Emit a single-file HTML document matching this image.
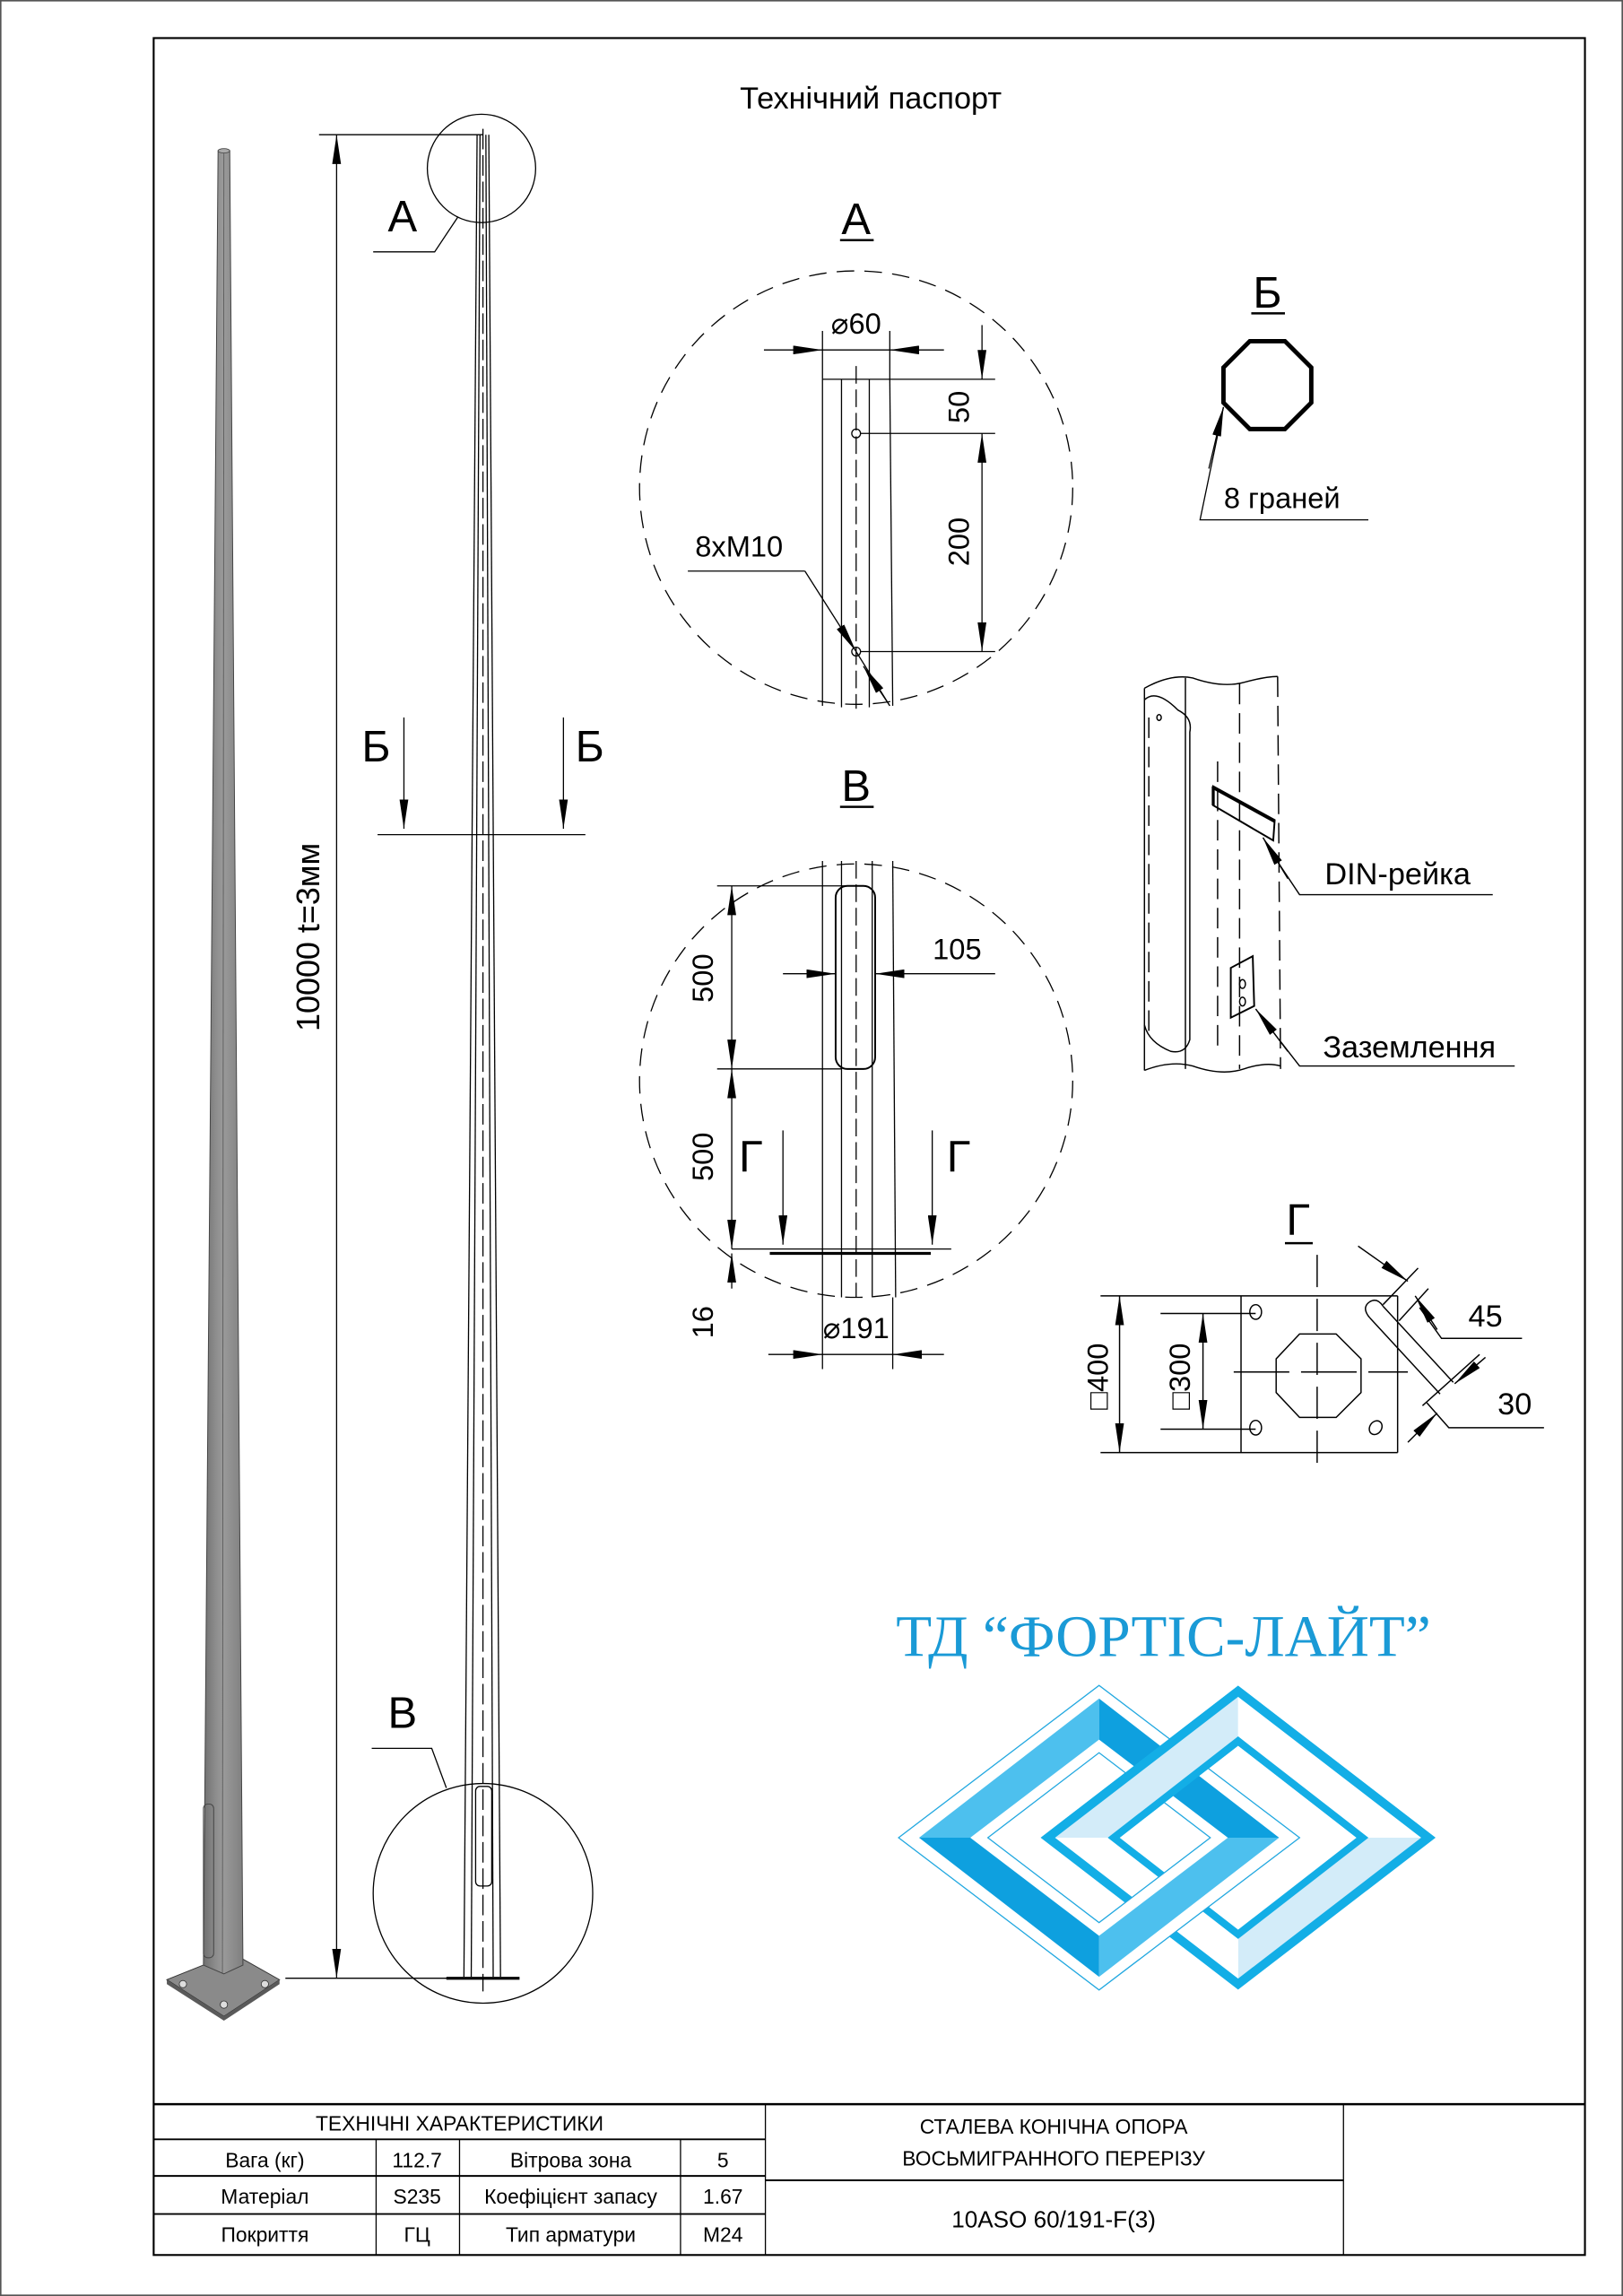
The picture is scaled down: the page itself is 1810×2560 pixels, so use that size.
<!DOCTYPE html>
<html><head><meta charset="utf-8"><style>
html,body{margin:0;padding:0;background:#fff}
svg{display:block}
text{font-family:"Liberation Sans","DejaVu Sans",sans-serif;fill:#000}
</style></head><body>
<svg width="1810" height="2560" viewBox="0 0 1109 1568" preserveAspectRatio="none" xmlns="http://www.w3.org/2000/svg">
<defs>
<marker id="ar" viewBox="0 0 20 6" refX="20" refY="3" markerWidth="20" markerHeight="6" markerUnits="userSpaceOnUse" orient="auto-start-reverse"><path d="M0,0 L20,3 L0,6 Z" fill="#000"/></marker>
<linearGradient id="pg" x1="0" x2="1"><stop offset="0" stop-color="#6f6f6f"/><stop offset="0.3" stop-color="#8c8c8c"/><stop offset="0.5" stop-color="#9a9a9a"/><stop offset="1" stop-color="#808080"/></linearGradient>
<clipPath id="up"><rect x="600" y="1100" width="400" height="155"/></clipPath>
<g id="rd">
<polygon points="719,1255 846,1157 846,1187 761,1255" fill="#d3ecf9"/>
<polygon points="846,1157 973,1255 931,1255 846,1187" fill="#fff"/>
<polygon points="973,1255 846,1353 846,1323 931,1255" fill="#d3ecf9"/>
<polygon points="846,1353 719,1255 761,1255 846,1323" fill="#fff"/>
<polygon points="716,1255 846,1155 976,1255 846,1355" fill="none" stroke="#13aee6" stroke-width="6"/>
<polygon points="761,1255 846,1189 931,1255 846,1321" fill="none" stroke="#13aee6" stroke-width="5"/>
</g>
</defs>
<rect x="0.5" y="0.5" width="1108" height="1567" fill="none" stroke="#555" stroke-width="1"/>
<rect x="105" y="26" width="978" height="1514" fill="none" stroke="#000" stroke-width="1.3"/>

<text x="595" y="74" font-size="21" text-anchor="middle">Технічний паспорт</text>

<!-- 3D pole -->
<polygon points="114,1352 159,1334 191,1352 153,1377" fill="#8a8a8a" stroke="#333" stroke-width="0.6"/>
<polygon points="114,1352 153,1377 191,1352 191,1355 153,1380 114,1355" fill="#5a5a5a"/>
<polygon points="149,103 157,103 166,1342 153,1348 139,1342" fill="url(#pg)" stroke="#444" stroke-width="0.6"/>
<line x1="153" y1="103" x2="152" y2="1348" stroke="#555" stroke-width="0.5"/>
<ellipse cx="153" cy="103" rx="4" ry="1.5" fill="#aaa" stroke="#444" stroke-width="0.5"/>
<rect x="139" y="1232" width="7" height="105" rx="3" fill="none" stroke="#444" stroke-width="0.6"/>
<circle cx="125" cy="1355" r="2.5" fill="#ddd" stroke="#333" stroke-width="0.5"/>
<circle cx="181" cy="1355" r="2.5" fill="#ddd" stroke="#333" stroke-width="0.5"/>
<circle cx="153" cy="1369" r="2.5" fill="#ddd" stroke="#333" stroke-width="0.5"/>

<!-- main elevation pole -->
<g stroke="#000" stroke-width="0.8" fill="none">
<line x1="326" y1="92" x2="317" y2="1350"/>
<line x1="334" y1="92" x2="342" y2="1350"/>
<line x1="328" y1="92" x2="322" y2="1350"/>
<line x1="332" y1="92" x2="337" y2="1350"/>
<line x1="330" y1="88" x2="330" y2="1360" stroke-dasharray="14,4"/>
<line x1="305" y1="1351" x2="355" y2="1351" stroke-width="2"/>
<rect x="325" y="1220" width="11" height="68" rx="3"/>
<line x1="218" y1="92" x2="330" y2="92"/>
<line x1="195" y1="1351" x2="310" y2="1351"/>
<line x1="230" y1="92" x2="230" y2="1351" marker-start="url(#ar)" marker-end="url(#ar)"/>
<circle cx="329" cy="115" r="37"/>
<polyline points="255,172 297,172 313,148"/>
<circle cx="330" cy="1293" r="75"/>
<polyline points="254,1194 295,1194 305,1221"/>
<line x1="258" y1="570" x2="400" y2="570"/>
<line x1="276" y1="490" x2="276" y2="566" marker-end="url(#ar)"/>
<line x1="385" y1="490" x2="385" y2="566" marker-end="url(#ar)"/>
</g>
<text transform="translate(218,640) rotate(-90)" font-size="22" text-anchor="middle">10000 t=3мм</text>
<text x="275" y="158" font-size="30" text-anchor="middle">А</text>
<text x="275" y="1180" font-size="30" text-anchor="middle">В</text>
<text x="257" y="520" font-size="30" text-anchor="middle">Б</text>
<text x="403" y="520" font-size="30" text-anchor="middle">Б</text>

<!-- Detail A -->
<text x="585" y="160" font-size="30" text-anchor="middle">А</text>
<line x1="574" y1="164" x2="597" y2="164" stroke="#000" stroke-width="1.5"/>
<g stroke="#000" stroke-width="0.8" fill="none">
<circle cx="585" cy="333" r="148" stroke-dasharray="12,7"/>
<line x1="562" y1="259" x2="562" y2="482"/>
<line x1="575" y1="259" x2="575" y2="483"/>
<line x1="585" y1="250" x2="585" y2="484" stroke-dasharray="12,4"/>
<line x1="594" y1="259" x2="594" y2="483"/>
<line x1="608" y1="259" x2="610" y2="482"/>
<line x1="562" y1="259" x2="680" y2="259"/>
<line x1="562" y1="226" x2="562" y2="259"/>
<line x1="608" y1="226" x2="608" y2="259"/>
<line x1="522" y1="239" x2="562" y2="239" marker-end="url(#ar)"/>
<line x1="645" y1="239" x2="608" y2="239" marker-end="url(#ar)"/>
<line x1="562" y1="239" x2="608" y2="239"/>
<circle cx="585" cy="296" r="3"/>
<circle cx="585" cy="445" r="3"/>
<line x1="588" y1="296" x2="680" y2="296"/>
<line x1="588" y1="445" x2="680" y2="445"/>
<line x1="671" y1="222" x2="671" y2="259" marker-end="url(#ar)"/>
<line x1="671" y1="296" x2="671" y2="445" marker-start="url(#ar)" marker-end="url(#ar)"/>
<line x1="470" y1="390" x2="550" y2="390"/>
<line x1="550" y1="390" x2="585" y2="445" marker-end="url(#ar)"/>
<line x1="585" y1="445" x2="608" y2="482"/>
<line x1="608" y1="482" x2="590" y2="455" marker-end="url(#ar)"/>
</g>
<text x="585" y="228" font-size="20" text-anchor="middle">⌀60</text>
<text transform="translate(662,278) rotate(-90)" font-size="20" text-anchor="middle">50</text>
<text transform="translate(662,370) rotate(-90)" font-size="20" text-anchor="middle">200</text>
<text x="505" y="380" font-size="20" text-anchor="middle">8хМ10</text>

<!-- Section Б octagon -->
<text x="866" y="210" font-size="30" text-anchor="middle">Б</text>
<line x1="855" y1="214" x2="878" y2="214" stroke="#000" stroke-width="1.5"/>
<polygon points="854,233 878,233 896,251 896,275 878,293 854,293 836,275 836,251" fill="none" stroke="#000" stroke-width="3"/>
<g stroke="#000" stroke-width="0.8" fill="none">
<polyline points="935,355 820,355 836,278"/>
<line x1="826" y1="320" x2="836" y2="278" marker-end="url(#ar)"/>
</g>
<text x="876" y="347" font-size="20" text-anchor="middle">8 граней</text>

<!-- DIN detail -->
<g stroke="#000" stroke-width="0.9" fill="none">
<path d="M782,470 Q800,460 815,463 Q835,470 850,466 Q865,462 873,462"/>
<path d="M782,731 Q800,724 815,728 Q835,735 850,730 Q865,725 875,728"/>
<line x1="782" y1="470" x2="782" y2="731"/>
<line x1="810" y1="463" x2="810" y2="730"/>
<line x1="785" y1="490" x2="785" y2="710" stroke-dasharray="14,6"/>
<line x1="832" y1="520" x2="832" y2="720" stroke-dasharray="14,6"/>
<line x1="847" y1="467" x2="847" y2="730" stroke-dasharray="14,6"/>
<line x1="873" y1="462" x2="875" y2="730" stroke-dasharray="14,6"/>
<path d="M782,478 Q790,470 805,485 Q815,490 813,500 L813,710 Q810,720 800,718 Q785,712 782,700"/>
<ellipse cx="792" cy="490" rx="1.5" ry="2"/>
<polygon points="829,537 871,560 870,574 829,550" stroke-width="1.2"/>
<line x1="829" y1="537" x2="829" y2="550" stroke-width="2"/>
<line x1="829" y1="538" x2="871" y2="561" stroke-width="2"/>
<polygon points="841,661 856,653 857,687 841,695" stroke-width="1.2"/>
<ellipse cx="849" cy="672" rx="2" ry="3"/>
<ellipse cx="849" cy="684" rx="2" ry="3"/>
<polyline points="1020,611 888,611 874,590"/>
<line x1="880" y1="600" x2="863" y2="572" marker-end="url(#ar)"/>
<polyline points="1035,728 888,728 874,710"/>
<line x1="880" y1="718" x2="858" y2="689" marker-end="url(#ar)"/>
</g>
<text x="955" y="604" font-size="21" text-anchor="middle">DIN-рейка</text>
<text x="963" y="722" font-size="21" text-anchor="middle">Заземлення</text>

<!-- Detail В -->
<text x="585" y="547" font-size="30" text-anchor="middle">В</text>
<line x1="574" y1="551" x2="597" y2="551" stroke="#000" stroke-width="1.5"/>
<g stroke="#000" stroke-width="0.8" fill="none">
<circle cx="585" cy="738" r="148" stroke-dasharray="12,7"/>
<line x1="562" y1="588" x2="562" y2="886"/>
<line x1="575" y1="588" x2="575" y2="886"/>
<line x1="585" y1="588" x2="585" y2="886" stroke-dasharray="12,4"/>
<line x1="596" y1="588" x2="596" y2="886"/>
<line x1="610" y1="588" x2="612" y2="886"/>
<rect x="571" y="605" width="27" height="125" rx="8" stroke-width="1.2"/>
<line x1="490" y1="605" x2="590" y2="605"/>
<line x1="490" y1="730" x2="575" y2="730"/>
<line x1="500" y1="605" x2="500" y2="730" marker-start="url(#ar)" marker-end="url(#ar)"/>
<line x1="500" y1="730" x2="500" y2="853" marker-start="url(#ar)" marker-end="url(#ar)"/>
<line x1="500" y1="853" x2="650" y2="853"/>
<line x1="526" y1="856" x2="636" y2="856" stroke-width="2"/>
<line x1="500" y1="880" x2="500" y2="856" marker-end="url(#ar)"/>
<line x1="535" y1="665" x2="571" y2="665" marker-end="url(#ar)"/>
<line x1="680" y1="665" x2="598" y2="665" marker-end="url(#ar)"/>
<line x1="535" y1="772" x2="535" y2="850" marker-end="url(#ar)"/>
<line x1="637" y1="772" x2="637" y2="850" marker-end="url(#ar)"/>
<line x1="562" y1="886" x2="562" y2="935"/>
<line x1="610" y1="886" x2="610" y2="935"/>
<line x1="525" y1="925" x2="562" y2="925" marker-end="url(#ar)"/>
<line x1="645" y1="925" x2="610" y2="925" marker-end="url(#ar)"/>
<line x1="562" y1="925" x2="610" y2="925"/>
</g>
<text x="654" y="655" font-size="20" text-anchor="middle">105</text>
<text transform="translate(487,668) rotate(-90)" font-size="20" text-anchor="middle">500</text>
<text transform="translate(487,790) rotate(-90)" font-size="20" text-anchor="middle">500</text>
<text transform="translate(487,903) rotate(-90)" font-size="20" text-anchor="middle">16</text>
<text x="513" y="800" font-size="30" text-anchor="middle">Г</text>
<text x="655" y="800" font-size="30" text-anchor="middle">Г</text>
<text x="585" y="914" font-size="20" text-anchor="middle">⌀191</text>

<!-- Detail Г -->
<text x="887" y="843" font-size="30" text-anchor="middle">Г</text>
<line x1="878" y1="849" x2="897" y2="849" stroke="#000" stroke-width="1.5"/>
<g stroke="#000" stroke-width="0.9" fill="none">
<line x1="752" y1="885" x2="955" y2="885"/>
<line x1="752" y1="992" x2="955" y2="992"/>
<line x1="848" y1="885" x2="848" y2="992"/>
<line x1="955" y1="885" x2="955" y2="992"/>
<line x1="765" y1="885" x2="765" y2="992" marker-start="url(#ar)" marker-end="url(#ar)"/>
<line x1="793" y1="897" x2="858" y2="897"/>
<line x1="793" y1="976" x2="858" y2="976"/>
<line x1="822" y1="897" x2="822" y2="976" marker-start="url(#ar)" marker-end="url(#ar)"/>
<polygon points="888,911 913,911 930,928 930,951 913,968 888,968 872,951 872,928"/>
<line x1="900" y1="857" x2="900" y2="1000" stroke-dasharray="22,8"/>
<line x1="843" y1="937" x2="962" y2="937" stroke-dasharray="38,8"/>
<ellipse cx="858" cy="896" rx="4" ry="5"/>
<ellipse cx="858" cy="975" rx="4" ry="5"/>
<ellipse cx="940" cy="975" rx="4" ry="5" transform="rotate(35 940 975)"/>
<path d="M936,900 L984,952 M945,892 L993,944"/>
<path d="M936,900 Q930,893 936,889 Q941,886 945,892"/>
<line x1="945" y1="891" x2="969" y2="866"/>
<line x1="956" y1="902" x2="976" y2="880"/>
<line x1="928" y1="851" x2="962" y2="875" marker-end="url(#ar)"/>
<polyline points="1040,914 985,914 970,893"/>
<line x1="982" y1="908" x2="967" y2="885" marker-end="url(#ar)"/>
<line x1="972" y1="960" x2="1011" y2="925"/>
<line x1="1015" y1="927" x2="994" y2="945" marker-end="url(#ar)"/>
<line x1="962" y1="985" x2="982" y2="965" marker-end="url(#ar)"/>
<polyline points="1055,975 990,975 975,958"/>
</g>
<text transform="translate(757,940) rotate(-90)" font-size="20" text-anchor="middle">□400</text>
<text transform="translate(813,940) rotate(-90)" font-size="20" text-anchor="middle">□300</text>
<text x="1015" y="906" font-size="21" text-anchor="middle">45</text>
<text x="1035" y="966" font-size="21" text-anchor="middle">30</text>

<!-- Logo -->
<text x="795" y="1131" font-size="40" text-anchor="middle" style="fill:#1a9ad6;font-family:'Liberation Serif',serif">ТД “ФОРТІС-ЛАЙТ”</text>
<use href="#rd"/>
<g>
<path d="M614,1255 L751,1151 L888,1255 L751,1359 Z M675,1255 L751,1313 L827,1255 L751,1197 Z" fill="#fff" fill-rule="evenodd"/>
<polygon points="614,1255 751,1151 888,1255 751,1359" fill="none" stroke="#22a8e0" stroke-width="0.8"/>
<polygon points="628,1255 751,1160 751,1188 663,1255" fill="#4dc0ee"/>
<polygon points="751,1160 874,1255 839,1255 751,1188" fill="#0ea0df"/>
<polygon points="874,1255 751,1350 751,1322 839,1255" fill="#4dc0ee"/>
<polygon points="751,1350 628,1255 663,1255 751,1322" fill="#0ea0df"/>
<polygon points="675,1255 751,1197 827,1255 751,1313" fill="none" stroke="#22a8e0" stroke-width="0.8"/>
</g>
<use href="#rd" clip-path="url(#up)"/>

<!-- Table -->
<g stroke="#000" fill="none">
<line x1="105" y1="1437" x2="1083" y2="1437" stroke-width="1.5"/>
<line x1="105" y1="1461" x2="523" y2="1461" stroke-width="1.2"/>
<line x1="105" y1="1486" x2="523" y2="1486" stroke-width="1.2"/>
<line x1="105" y1="1512" x2="523" y2="1512" stroke-width="1.2"/>
<line x1="523" y1="1489" x2="918" y2="1489" stroke-width="1.2"/>
<line x1="257" y1="1461" x2="257" y2="1540" stroke-width="0.8"/>
<line x1="314" y1="1461" x2="314" y2="1540" stroke-width="0.8"/>
<line x1="465" y1="1461" x2="465" y2="1540" stroke-width="0.8"/>
<line x1="523" y1="1437" x2="523" y2="1540" stroke-width="0.8"/>
<line x1="918" y1="1437" x2="918" y2="1540" stroke-width="0.8"/>
</g>
<g font-size="14" text-anchor="middle">
<text x="314" y="1455">ТЕХНІЧНІ ХАРАКТЕРИСТИКИ</text>
<text x="181" y="1480">Вага (кг)</text>
<text x="285" y="1480">112.7</text>
<text x="390" y="1480">Вітрова зона</text>
<text x="494" y="1480">5</text>
<text x="181" y="1505">Матеріал</text>
<text x="285" y="1505">S235</text>
<text x="390" y="1505">Коефіцієнт запасу</text>
<text x="494" y="1505">1.67</text>
<text x="181" y="1531">Покриття</text>
<text x="285" y="1531">ГЦ</text>
<text x="390" y="1531">Тип арматури</text>
<text x="494" y="1531">М24</text>
<text x="720" y="1457">СТАЛЕВА КОНІЧНА ОПОРА</text>
<text x="720" y="1479">ВОСЬМИГРАННОГО ПЕРЕРІЗУ</text>
<text x="720" y="1521" font-size="16">10ASO 60/191-F(3)</text>
</g>
</svg>
</body></html>
